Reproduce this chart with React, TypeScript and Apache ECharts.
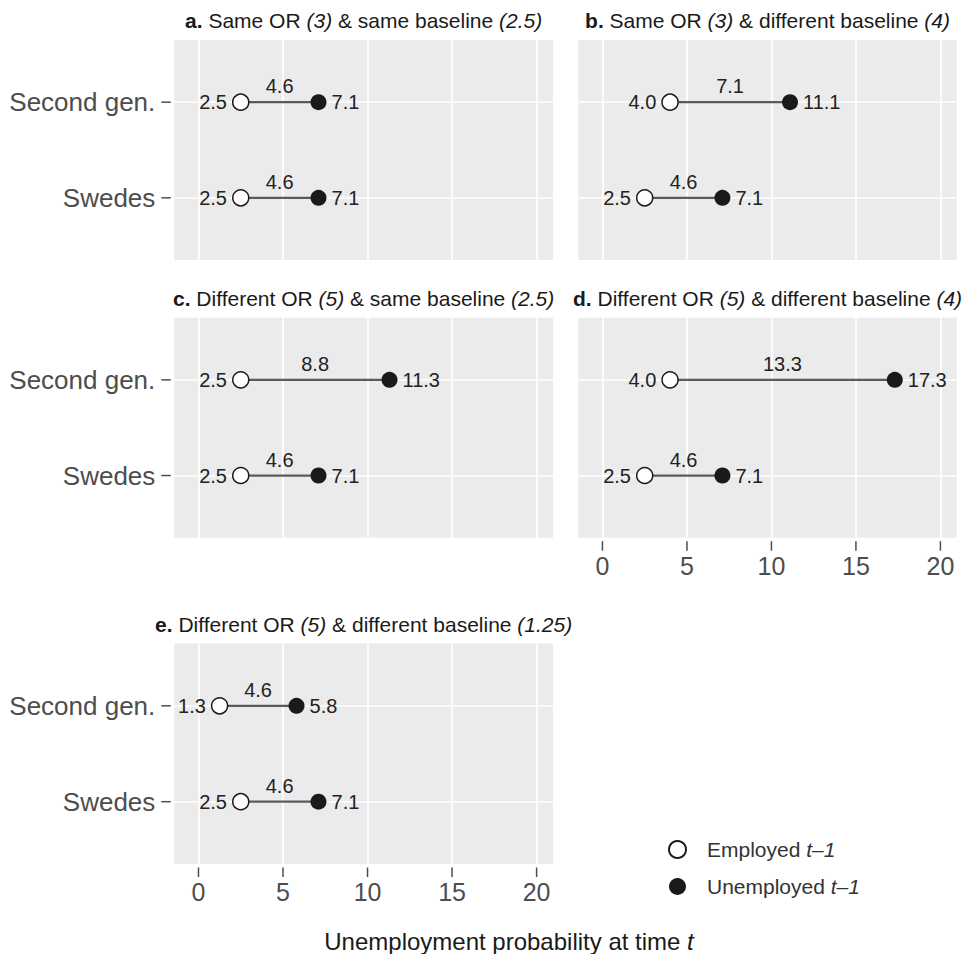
import React, { useEffect, useRef } from 'react';
import * as echarts from 'echarts';

// ---- data ----
const categories = ['Swedes', 'Second gen.']; // y = 1, 2
const xTicks = [0, 5, 10, 15, 20];
const legendNames = ['Employed', 'Unemployed'];
const legendSuffix = 't\u20131';

const employedA = [2.5, 2.5];
const unemployedA = [7.1, 7.1];
const diffA = [4.6, 4.6];

const employedB = [2.5, 4.0];
const unemployedB = [7.1, 11.1];
const diffB = [4.6, 7.1];

const employedC = [2.5, 2.5];
const unemployedC = [7.1, 11.3];
const diffC = [4.6, 8.8];

const employedD = [2.5, 4.0];
const unemployedD = [7.1, 17.3];
const diffD = [4.6, 13.3];

const employedE = [2.5, 1.25];
const unemployedE = [7.1, 5.8];
const diffE = [4.6, 4.6];

const titles = [
  '{b|a.} Same OR {i|(3)} & same baseline {i|(2.5)}',
  '{b|b.} Same OR {i|(3)} & different baseline {i|(4)}',
  '{b|c.} Different OR {i|(5)} & same baseline {i|(2.5)}',
  '{b|d.} Different OR {i|(5)} & different baseline {i|(4)}',
  '{b|e.} Different OR {i|(5)} & different baseline {i|(1.25)}',
];
const axisTitle = '{n|Unemployment probability at time }{i|t}';

// ---- layout ----
const FONT = "'Liberation Sans', Arial, Helvetica, sans-serif";
const X_MIN = -1.43;
const X_MAX = 20.97;
const Y_MIN = 0.35;
const Y_MAX = 2.65;
const TICK_COLOR = '#4d4d4d';
const TICK_GAP = 3.5;
const TICK_LEN = 9.5;
const TICK_W = 1.5;
const LABEL_COLOR = '#222222';

const panels = [
  { emp: employedA, unemp: unemployedA, diff: diffA, left: 174.3, top: 40, width: 378.7, height: 220, showY: true, showX: false },
  { emp: employedB, unemp: unemployedB, diff: diffB, left: 578.3, top: 40, width: 378.5, height: 220, showY: false, showX: false },
  { emp: employedC, unemp: unemployedC, diff: diffC, left: 174.3, top: 317.7, width: 378.7, height: 220, showY: true, showX: false },
  { emp: employedD, unemp: unemployedD, diff: diffD, left: 578.3, top: 317.7, width: 378.5, height: 220, showY: false, showX: true },
  { emp: employedE, unemp: unemployedE, diff: diffE, left: 174.3, top: 643.5, width: 378.7, height: 220.5, showY: true, showX: true },
];

const richTitle = {
  b: { fontFamily: FONT, fontSize: 21, fontWeight: 'bold', fill: '#1a1a1a', color: '#1a1a1a' },
  i: { fontFamily: FONT, fontSize: 21, fontStyle: 'italic', fill: '#1a1a1a', color: '#1a1a1a' },
};

function buildOption() {
  const grid: any[] = [];
  const xAxis: any[] = [];
  const yAxis: any[] = [];
  const series: any[] = [];
  const graphic: any[] = [];

  panels.forEach((p, i) => {
    grid.push({
      left: p.left, top: p.top, width: p.width, height: p.height,
      show: true, backgroundColor: '#EBEBEB', borderWidth: 0, containLabel: false,
    });
    // x labels: a small tick box on the first line, the number on the second
    xAxis.push({
      type: 'value', gridIndex: i, min: X_MIN, max: X_MAX, offset: 0,
      splitLine: { show: false }, axisLine: { show: false }, axisTick: { show: false },
      axisLabel: {
        show: p.showX, customValues: xTicks, margin: TICK_GAP,
        formatter: (v: number) => `{t|}\n{v|${v}}`,
        rich: {
          t: { width: TICK_W, height: TICK_LEN, lineHeight: TICK_LEN, backgroundColor: TICK_COLOR, align: 'center' },
          v: { fontSize: 25, lineHeight: 30, color: '#4d4d4d', fontFamily: FONT, align: 'center' },
        },
      },
    });
    yAxis.push({
      type: 'value', gridIndex: i, min: Y_MIN, max: Y_MAX, offset: 3,
      splitLine: { show: false }, axisLine: { show: false }, axisTick: { show: false },
      axisLabel: {
        show: p.showY, customValues: [1, 2], fontSize: 26, color: '#4d4d4d', fontFamily: FONT, margin: 16,
        formatter: (v: number) => categories[Math.round(v) - 1] || '',
      },
    });

    // gridlines
    series.push({
      type: 'line', xAxisIndex: i, yAxisIndex: i, data: [], z: 1, silent: true,
      markLine: {
        z: 1, silent: true, symbol: ['none', 'none'], label: { show: false },
        lineStyle: { color: '#ffffff', width: 1.6, type: 'solid' },
        emphasis: { disabled: true },
        data: [
          ...xTicks.map((v) => ({ xAxis: v })),
          ...categories.map((_, k) => ({ yAxis: k + 1 })),
        ],
      },
    });

    // y axis ticks left of the panel
    if (p.showY) {
      series.push({
        type: 'custom', xAxisIndex: i, yAxisIndex: i, silent: true, clip: false, z: 5,
        data: categories.map((_, k) => [0, k + 1]),
        renderItem: (params: any, api: any) => {
          const cs = params.coordSys;
          const pt = api.coord([api.value(0), api.value(1)]);
          return {
            type: 'rect',
            shape: { x: cs.x - TICK_GAP - TICK_LEN, y: pt[1] - TICK_W / 2, width: TICK_LEN, height: TICK_W },
            style: { fill: TICK_COLOR },
          };
        },
      });
    }

    // segments
    categories.forEach((_, k) => {
      series.push({
        type: 'line', xAxisIndex: i, yAxisIndex: i, z: 2, silent: true,
        symbol: 'none', lineStyle: { color: '#5a5a5a', width: 2.3 },
        emphasis: { disabled: true },
        data: [[p.emp[k], k + 1], [p.unemp[k], k + 1]],
      });
    });

    // difference labels above the segment midpoints
    series.push({
      type: 'custom', xAxisIndex: i, yAxisIndex: i, silent: true, clip: false, z: 3,
      data: categories.map((_, k) => [(p.emp[k] + p.unemp[k]) / 2, k + 1, p.diff[k]]),
      renderItem: (_params: any, api: any) => {
        const pt = api.coord([api.value(0), api.value(1)]);
        return {
          type: 'text',
          x: pt[0], y: pt[1] - 16,
          style: {
            text: Number(api.value(2)).toFixed(1),
            fill: LABEL_COLOR, fontSize: 20, fontFamily: FONT,
            align: 'center', verticalAlign: 'middle',
          },
        };
      },
    });

    // employed (open)
    series.push({
      type: 'scatter', name: legendNames[0], xAxisIndex: i, yAxisIndex: i, z: 4, silent: true,
      symbol: 'circle', symbolSize: 16,
      itemStyle: { color: '#ffffff', borderColor: '#1a1a1a', borderWidth: 1.5, opacity: 1 },
      emphasis: { disabled: true },
      label: {
        show: true, position: 'left', distance: 5,
        formatter: (q: any) => Number(q.value[0]).toFixed(1),
        fontSize: 20, color: LABEL_COLOR, fontFamily: FONT,
      },
      data: categories.map((_, k) => [p.emp[k], k + 1]),
    });

    // unemployed (filled)
    series.push({
      type: 'scatter', name: legendNames[1], xAxisIndex: i, yAxisIndex: i, z: 4, silent: true,
      symbol: 'circle', symbolSize: 16,
      itemStyle: { color: '#1a1a1a', opacity: 1 },
      emphasis: { disabled: true },
      label: {
        show: true, position: 'right', distance: 5,
        formatter: (q: any) => Number(q.value[0]).toFixed(1),
        fontSize: 20, color: LABEL_COLOR, fontFamily: FONT,
      },
      data: categories.map((_, k) => [p.unemp[k], k + 1]),
    });

    graphic.push({
      id: `title-${i}`,
      type: 'text',
      x: p.left + p.width / 2,
      y: p.top - 19.5,
      style: {
        text: titles[i], fontFamily: FONT, fontSize: 21, fill: '#1a1a1a',
        align: 'center', verticalAlign: 'middle', rich: richTitle,
      },
    });
  });

  graphic.push({
    id: 'axis-title',
    type: 'text', x: 509, y: 941.5,
    style: {
      text: axisTitle, fontFamily: FONT, fontSize: 24, fill: '#1a1a1a',
      align: 'center', verticalAlign: 'middle',
      rich: {
        n: { fontFamily: FONT, fontSize: 24, fill: '#1a1a1a', color: '#1a1a1a' },
        i: { fontFamily: FONT, fontSize: 24, fontStyle: 'italic', fill: '#1a1a1a', color: '#1a1a1a' },
      },
    },
  });

  return {
    animation: false,
    backgroundColor: '#ffffff',
    grid, xAxis, yAxis, series, graphic,
    legend: {
      data: legendNames,
      orient: 'vertical', left: 668, top: 839, padding: 0,
      itemWidth: 17, itemHeight: 17, itemGap: 16, icon: 'circle',
      selectedMode: false,
      formatter: (name: string) => `{n|${name}} {i|${legendSuffix}}`,
      textStyle: {
        fontSize: 21, color: '#333', fontFamily: FONT, padding: [0, 0, 0, 16],
        rich: {
          n: { fontSize: 21, color: '#333', fontFamily: FONT },
          i: { fontSize: 21, color: '#333', fontFamily: FONT, fontStyle: 'italic' },
        },
      },
    },
  };
}

export default function App() {
  const ref = useRef<HTMLDivElement>(null);
  useEffect(() => {
    if (!ref.current) return;
    const chart = echarts.init(ref.current, undefined, { renderer: 'svg' });
    chart.setOption(buildOption() as any);
    return () => chart.dispose();
  }, []);
  return (
    <div
      ref={ref}
      style={{ position: 'absolute', left: 0, top: 0, width: 971, height: 954, background: '#fff' }}
    />
  );
}
